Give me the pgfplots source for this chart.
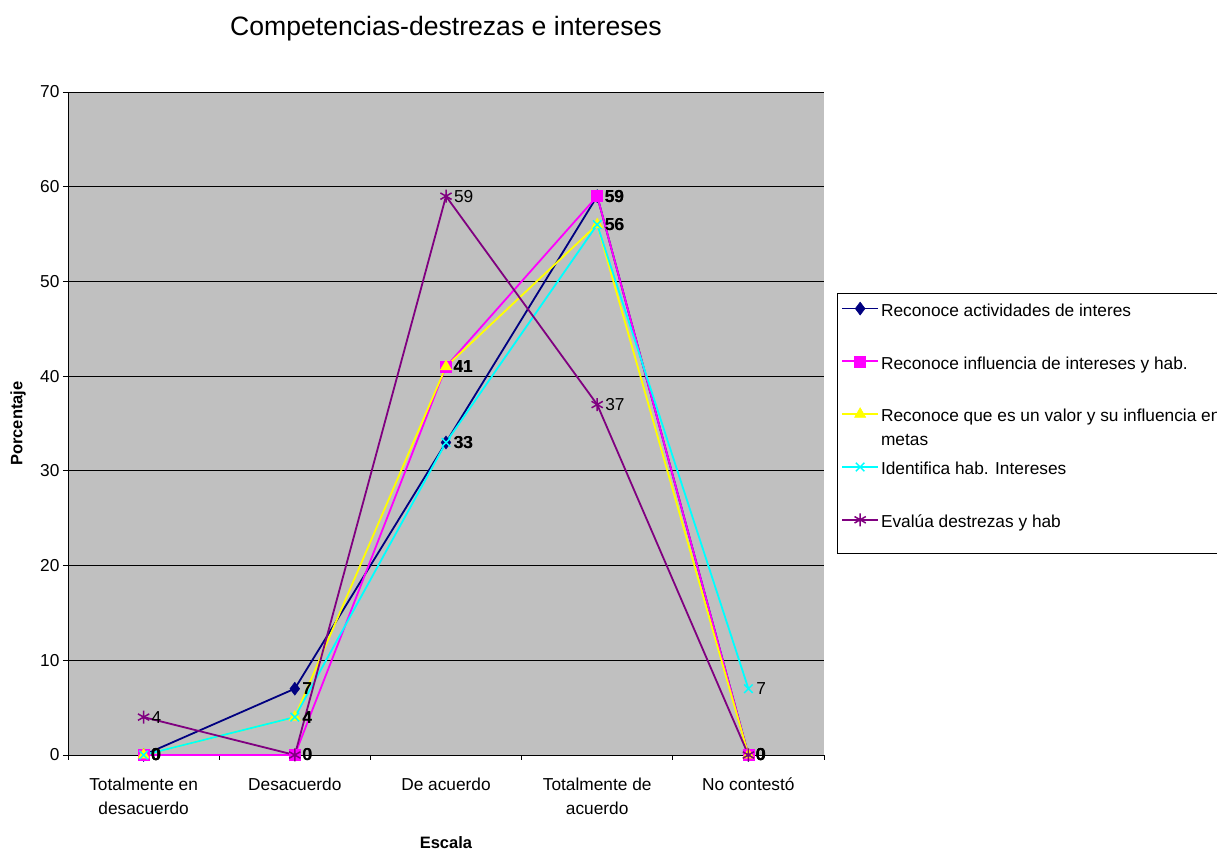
\documentclass[border=0pt]{standalone}
\usepackage{pgfplots}
\pgfplotsset{compat=1.18}
\usepackage{fontspec}
\setmainfont{Liberation Sans}
\definecolor{cnavy}{RGB}{0,0,128}
\definecolor{cmag}{RGB}{255,0,255}
\definecolor{cyel}{RGB}{255,255,0}
\definecolor{ccyan}{RGB}{0,255,255}
\definecolor{cpurp}{RGB}{128,0,128}
\definecolor{plotgray}{RGB}{192,192,192}
\newcommand{\fs}{\fontsize{17.3}{24}\selectfont}
\pgfplotsset{lastimg/.style={legend image code/.code={\draw[mark repeat=2,mark phase=2,##1] plot coordinates {(0pt,0pt) (18pt,0pt) (36pt,0pt)}; \path (0pt,-29pt);}}}
\begin{document}
\begin{tikzpicture}
\useasboundingbox (0,0) rectangle (1217pt,853pt);
\begin{axis}[
  at={(68pt,98pt)}, anchor=south west,
  width=756pt, height=663pt, scale only axis,
  xmin=-0.5, xmax=4.5, ymin=0, ymax=70,
  axis lines*=left,
  axis line style={black, line width=0.8pt},
  axis background/.style={fill=plotgray},
  ytick={0,10,...,70}, ymajorgrids,
  grid style={black, line width=0.8pt},
  xtick={0,...,4},
  xticklabels={{Totalmente en\\desacuerdo},{Desacuerdo},{De acuerdo},{Totalmente de\\acuerdo},{No contestó}},
  major x tick style={draw=none},
  minor xtick={-0.5,0.5,1.5,2.5,3.5,4.5},
  minor tick style={black, line width=0.8pt},
  major tick style={black, line width=0.8pt},
  tick align=outside, major tick length=5pt, minor tick length=5pt,
  xticklabel style={align=center, font=\fs, yshift=-14pt},
  yticklabel style={font=\fs},
  /pgf/number format/assume math mode=true,
  title={Competencias-destrezas e intereses},
  title style={font=\fontsize{26.6}{30}\selectfont, at={(axis description cs:0.5,1.098)}, anchor=center, yshift=-8pt},
  xlabel={\textbf{Escala}},
  xlabel style={font=\fontsize{16.5}{20}\selectfont, at={(axis description cs:0.5,-0.1327)}, anchor=center},
  ylabel={\textbf{Porcentaje}},
  ylabel style={font=\fontsize{16.5}{20}\selectfont, at={(axis description cs:-0.066,0.5)}, anchor=center},
  clip=false,
  legend cell align=left,
  legend style={at={(1.017,0.6968)}, anchor=north west, draw=black, line width=0.8pt, fill=white,
    font=\fs, row sep=30.5pt, inner xsep=4pt, inner ysep=4pt, nodes={inner sep=2pt}},
  legend image code/.code={\draw[mark repeat=2,mark phase=2,#1] plot coordinates {(0pt,0pt) (18pt,0pt) (36pt,0pt)};},
  every node near coord/.append style={text=black, anchor=west, xshift=4pt, font=\fs},
]
\addplot[color=cnavy, line width=1.8pt, mark=diamond*, mark size=6.5pt, mark options={solid, fill=cnavy, line width=0.5pt},
  nodes near coords, nodes near coords style={font=\fs\bfseries}]
  coordinates {(0,0) (1,7) (2,33) (3,59) (4,0)};
\addlegendentry{Reconoce actividades de interes\strut}
\addplot[color=cmag, line width=1.8pt, mark=square*, mark size=5.5pt, mark options={solid, fill=cmag, line width=0.5pt},
  nodes near coords, nodes near coords style={font=\fs\bfseries}]
  coordinates {(0,0) (1,0) (2,41) (3,59) (4,0)};
\addlegendentry{Reconoce influencia de intereses y hab.\strut}
\addplot[color=cyel, line width=1.8pt, mark=triangle*, mark size=6.5pt, mark options={solid, fill=cyel, line width=0.5pt},
  nodes near coords, nodes near coords style={font=\fs\bfseries}]
  coordinates {(0,0) (1,4) (2,41) (3,56) (4,0)};
\addlegendentry{\smash{\parbox[t]{345pt}{\raggedright Reconoce que es un valor y su influencia en metas}}\strut}
\addplot[color=ccyan, line width=1.8pt, mark=x, mark size=6pt, mark options={solid, line width=1.5pt},
  nodes near coords]
  coordinates {(0,0) (1,4) (2,33) (3,56) (4,7)};
\addlegendentry{Identifica hab. Intereses\strut}
\addplot[color=cpurp, line width=1.8pt, mark=asterisk, mark size=6.5pt, mark options={solid, line width=1.5pt},
  nodes near coords, lastimg]
  coordinates {(0,4) (1,0) (2,59) (3,37) (4,0)};
\addlegendentry{Evalúa destrezas y hab\strut}
\end{axis}
\end{tikzpicture}
\end{document}
